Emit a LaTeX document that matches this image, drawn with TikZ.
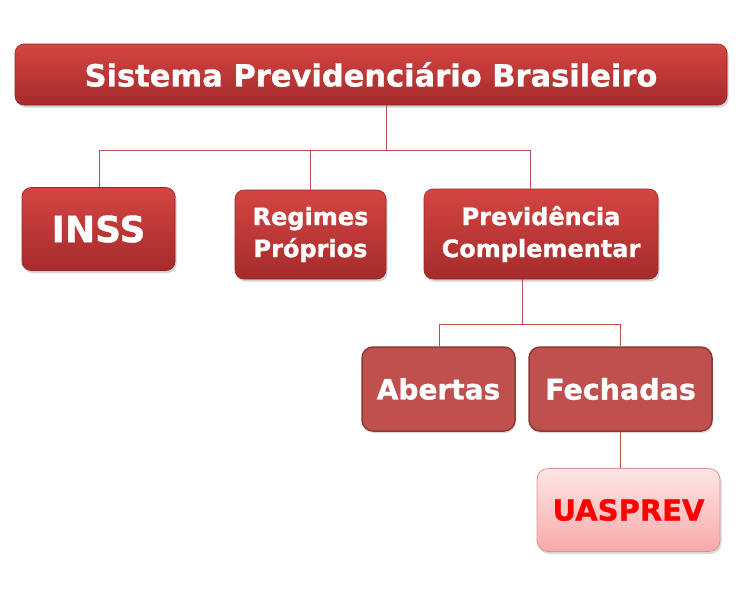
\documentclass[tikz,border=0pt]{standalone}
\usepackage{fontspec}
\setmainfont{DejaVu Sans}[BoldFeatures={FakeBold=1}]
\usetikzlibrary{shadows}
\definecolor{rtop}{HTML}{D44542}
\definecolor{rbot}{HTML}{A52B2B}
\definecolor{rline}{HTML}{C0504D}
\definecolor{rflat}{HTML}{C0504D}
\definecolor{rborder}{HTML}{8C3836}
\definecolor{ptop}{HTML}{FDE6E6}
\definecolor{pbot}{HTML}{F8A9A9}
\definecolor{pborder}{HTML}{D99594}
\tikzset{
  x=1pt, y=-1pt,
  redbox/.style={rounded corners=9pt, top color=rtop, bottom color=rbot, draw=rbot!90!black, line width=0.6pt,
     drop shadow={shadow xshift=1.5pt, shadow yshift=-2.5pt, opacity=0.35},
     text=white, font=\bfseries, align=center, inner sep=0pt},
  flatbox/.style={rounded corners=11pt, fill=rflat, draw=rborder, line width=1.5pt,
     drop shadow={shadow xshift=1pt, shadow yshift=-2pt, opacity=0.3},
     text=white, font=\bfseries, align=center, inner sep=0pt},
  pinkbox/.style={rounded corners=11pt, top color=ptop, bottom color=pbot, draw=pborder, line width=0.8pt,
     drop shadow={shadow xshift=1.5pt, shadow yshift=-2.5pt, opacity=0.3},
     text=red, font=\bfseries, align=center, inner sep=0pt},
  conn/.style={draw=rline, line width=0.9pt}
}
\begin{document}
\begin{tikzpicture}
\useasboundingbox (0,0) rectangle (742,600);
\node[redbox, minimum width=712pt, minimum height=61pt, font=\bfseries\fontsize{30.5}{34}\selectfont] (top) at (371,74.5) {Sistema Previdenciário Brasileiro};
\node[redbox, minimum width=153pt, minimum height=83pt, font=\bfseries\fontsize{36}{40}\selectfont] (inss) at (98.5,229) {INSS};
\node[redbox, minimum width=151pt, minimum height=89pt, font=\bfseries\fontsize{24}{32}\selectfont] (reg) at (310.5,234.5) {Regimes\\Próprios};
\node[redbox, minimum width=234pt, minimum height=90pt, font=\bfseries\fontsize{24}{32}\selectfont] (prev) at (541,234) {Previdência\\Complementar};
\node[flatbox, minimum width=153pt, minimum height=84pt, font=\bfseries\fontsize{28}{32}\selectfont] (abe) at (438.5,389) {Abertas};
\node[flatbox, minimum width=183pt, minimum height=84pt, font=\bfseries\fontsize{28.5}{32}\selectfont] (fec) at (620.5,389) {Fechadas};
\node[pinkbox, minimum width=183pt, minimum height=83pt, font=\bfseries\fontsize{29}{32}\selectfont] (uas) at (628.5,510) {UASPREV};
\coordinate (j1) at (386,150);
\coordinate (b1) at (99,150);
\coordinate (b2) at (310,150);
\coordinate (b3) at (530,150);
\coordinate (j2) at (522,324);
\coordinate (c1) at (439,324);
\coordinate (c2) at (620,324);
\coordinate (d1) at (620,431);
\path[conn] (j1 |- top.south) -- (j1);
\path[conn] (b1 |- inss.north) -- (b1) -- (b3) -- (b3 |- prev.north);
\path[conn] (b2) -- (b2 |- reg.north);
\path[conn] (j2 |- prev.south) -- (j2);
\path[conn] (c1 |- abe.north) -- (c1) -- (c2) -- (c2 |- fec.north);
\path[conn] (d1 |- fec.south) -- (d1 |- uas.north);
\end{tikzpicture}
\end{document}
